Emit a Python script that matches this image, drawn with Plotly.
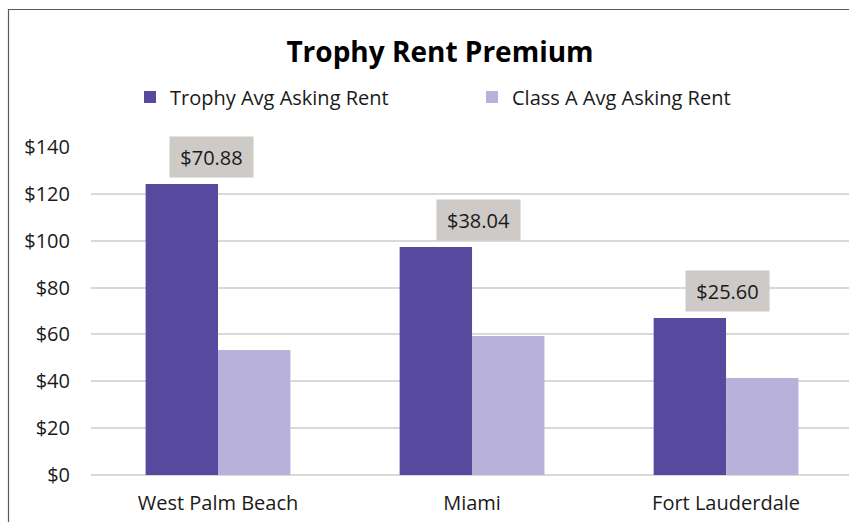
import plotly.graph_objects as go

categories = ["West Palm Beach", "Miami", "Fort Lauderdale"]
trophy_rent = [124.23, 97.34, 67.00]
class_a_rent = [53.35, 59.30, 41.40]
premium_labels = ["$70.88", "$38.04", "$25.60"]
y_ticks = [0, 20, 40, 60, 80, 100, 120, 140]
y_tick_labels = ["$0", "$20", "$40", "$60", "$80", "$100", "$120", "$140"]

FONT = "Open Sans"
TXT = "#1a1a1a"

# layout geometry (figure px)
L, T, W, H = 91, 147, 758, 328
LABEL_NUDGE = [-7, 6, 1]

fig = go.Figure()
fig.add_trace(go.Bar(name="Trophy Avg Asking Rent", x=categories, y=trophy_rent,
                     marker=dict(color="#574A9E", line=dict(width=0))))
fig.add_trace(go.Bar(name="Class A Avg Asking Rent", x=categories, y=class_a_rent,
                     marker=dict(color="#B8B2DB", line=dict(width=0))))

for cat, val, lab, dx in zip(categories, trophy_rent, premium_labels, LABEL_NUDGE):
    fig.add_annotation(x=cat, y=val, text=lab, showarrow=False, xref="x", yref="y",
                       yanchor="bottom", yshift=6, xshift=dx,
                       bgcolor="#CDCAC7", width=81, height=38,
                       font=dict(family=FONT, size=20, color=TXT))

# chart frame (only left and top edges are inside the window)
fig.add_shape(type="rect", xref="paper", yref="paper",
              x0=(8.5 - L) / W, x1=(880 - L) / W,
              y0=(T + H - 560) / H, y1=(T + H - 9.5) / H,
              line=dict(color="#595959", width=1.2), fillcolor="rgba(0,0,0,0)", layer="below")

fig.update_layout(
    width=849, height=522,
    margin=dict(l=L, r=0, t=T, b=522 - T - H),
    paper_bgcolor="white", plot_bgcolor="white",
    barmode="group", bargap=0.43, bargroupgap=0,
    title=dict(text="<b>Trophy Rent Premium</b>", x=440 / 849, xanchor="center",
               y=1 - 52 / 522, yanchor="middle",
               font=dict(family=FONT, size=28, color="#000")),
    legend=dict(orientation="h", x=(130 - L) / W, xanchor="left",
                y=(T + H - 97) / H, yanchor="middle", entrywidth=297,
                font=dict(family=FONT, size=20, color=TXT), itemwidth=30,
                traceorder="normal"),
    font=dict(family=FONT, size=20, color=TXT),
    xaxis=dict(range=[-0.5, 2.484], showgrid=False, showline=False, ticks="",
               tickfont=dict(family=FONT, size=20, color=TXT), ticklabelstandoff=14),
    yaxis=dict(range=[0, 140], tickvals=y_ticks, ticktext=y_tick_labels,
               showgrid=True, gridcolor="#D9D9D9", gridwidth=1.5,
               zeroline=True, zerolinecolor="#D9D9D9", zerolinewidth=1.5,
               showline=False, ticks="", ticklabelstandoff=20,
               tickfont=dict(family=FONT, size=20, color=TXT)),
    showlegend=True,
)

fig.write_html(
    "out.html",
    config={"displayModeBar": False},
    post_script=("document.body.style.margin='0';"
                 "document.body.style.overflow='hidden';"
                 "document.documentElement.style.overflow='hidden';"),
)
